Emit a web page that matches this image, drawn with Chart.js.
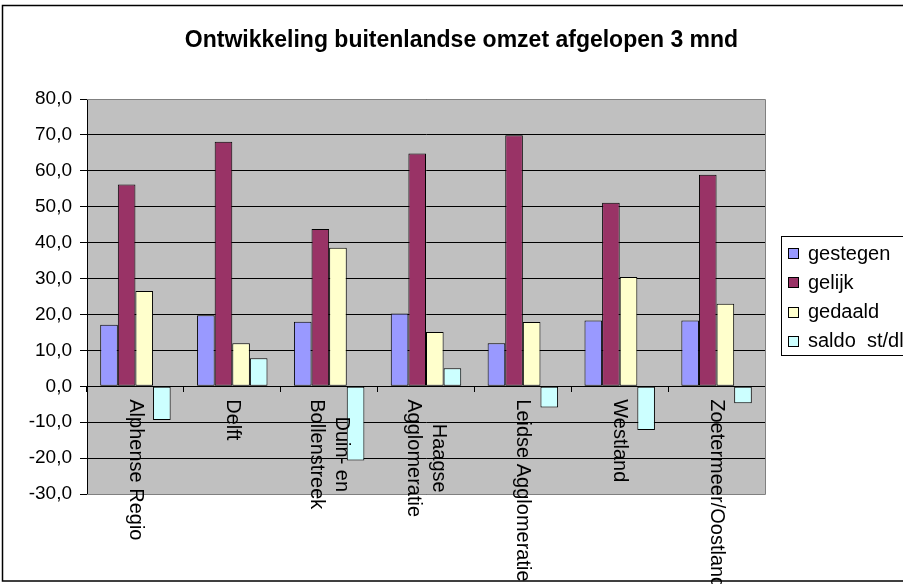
<!DOCTYPE html>
<html>
<head>
<meta charset="utf-8">
<title>Ontwikkeling buitenlandse omzet</title>
<script src="https://cdn.jsdelivr.net/npm/chart.js@4/dist/chart.umd.min.js"></script>
<style>
  html, body { margin: 0; padding: 0; background: #fff; overflow: hidden; }
  #chart { display: block; }
</style>
</head>
<body>
<canvas id="chart" width="903" height="584"></canvas>
<script>
// Data
const categories = [
  "Alphense Regio",
  "Delft",
  ["Duin- en", "Bollenstreek"],
  ["Haagse", "Agglomeratie"],
  "Leidse Agglomeratie",
  "Westland",
  "Zoetermeer/Oostland",
];
const seriesNames = ["gestegen", "gelijk", "gedaald", "saldo  st/dl"];
const gestegen = [17.1, 19.8, 18.0, 20.3, 12.0, 18.3, 18.3];
const gelijk = [56.2, 68.1, 43.8, 64.8, 69.9, 51.1, 58.9];
const gedaald = [26.5, 12.0, 38.6, 15.1, 17.9, 30.4, 23.0];
const saldo = [-9.4, 7.8, -20.7, 5.0, -5.9, -12.2, -4.7];
const yTicks = [-30, -20, -10, 0, 10, 20, 30, 40, 50, 60, 70, 80];
const titleText = "Ontwikkeling buitenlandse omzet afgelopen 3 mnd";

const colors = ["#9999ff", "#993366", "#ffffcc", "#ccffff"];
const FONT = "Arial, 'Liberation Sans', sans-serif";

Chart.defaults.font.family = FONT;
Chart.defaults.color = "#000";

// Excel-style extras: plot background, frame, title, rotated labels, legend box
const excelLook = {
  id: "excelLook",
  beforeDraw(chart) {
    const { ctx, chartArea: a } = chart;
    ctx.save();
    ctx.fillStyle = "#fff";
    ctx.fillRect(0, 0, chart.width, chart.height);
    ctx.fillStyle = "#c0c0c0";
    ctx.fillRect(a.left, a.top, a.right - a.left, a.bottom - a.top);
    ctx.restore();
  },
  beforeDatasetsDraw(chart) {
    const { ctx, chartArea: a } = chart;
    ctx.save();
    ctx.strokeStyle = "#808080";
    ctx.lineWidth = 1;
    ctx.beginPath();
    ctx.moveTo(a.left, Math.round(a.top) + 0.5);
    ctx.lineTo(Math.round(a.right) + 0.5, Math.round(a.top) + 0.5);
    ctx.lineTo(Math.round(a.right) + 0.5, Math.round(a.bottom) + 0.5);
    ctx.lineTo(a.left, Math.round(a.bottom) + 0.5);
    ctx.stroke();
    ctx.restore();
  },
  afterDraw(chart) {
    const { ctx, chartArea: a } = chart;
    const xs = chart.scales.x;
    const ys = chart.scales.y;
    ctx.save();

    // outer frame (right side runs off the picture)
    ctx.strokeStyle = "#000";
    ctx.lineWidth = 1.5;
    ctx.strokeRect(2.5, 5.5, 1000, 575.5);

    // title
    ctx.fillStyle = "#000";
    ctx.font = "bold 23px " + FONT;
    ctx.textAlign = "center";
    ctx.textBaseline = "alphabetic";
    ctx.fillText(titleText, 461.5, 47);

    // category labels, rotated to read downwards
    ctx.font = "20px " + FONT;
    ctx.textBaseline = "middle";
    const zeroY = ys.getPixelForValue(0);
    categories.forEach((cat, i) => {
      const lines = Array.isArray(cat) ? cat : [cat];
      const maxW = Math.max(...lines.map((l) => ctx.measureText(l).width));
      ctx.save();
      ctx.translate(xs.getPixelForValue(i), zeroY + 13);
      ctx.rotate(Math.PI / 2);
      ctx.textAlign = "center";
      lines.forEach((line, j) => {
        ctx.fillText(line, maxW / 2, (j - (lines.length - 1) / 2) * 25);
      });
      ctx.restore();
    });

    // legend box
    const lx = Math.round(a.right) + 16;
    ctx.font = "20px " + FONT;
    ctx.lineWidth = 1;
    ctx.strokeRect(lx + 0.5, 236.5, 200, 119);
    ctx.textAlign = "left";
    chart.data.datasets.forEach((ds, i) => {
      const cy = 253 + i * 29.3;
      ctx.fillStyle = ds.backgroundColor;
      ctx.fillRect(lx + 7, Math.round(cy) - 5, 10, 10);
      ctx.strokeRect(lx + 7.5, Math.round(cy) - 4.5, 10, 10);
      ctx.fillStyle = "#000";
      ctx.fillText(ds.label, lx + 27, cy + 1);
    });
    ctx.restore();
  },
};

function makeDataset(label, values, color) {
  return {
    label: label,
    data: values,
    backgroundColor: color,
    borderColor: "#000",
    borderWidth: 1,
    borderSkipped: false,
    categoryPercentage: 4 / 5.5,
    barPercentage: 1,
  };
}

new Chart(document.getElementById("chart"), {
  type: "bar",
  data: {
    labels: categories,
    datasets: [
      makeDataset(seriesNames[0], gestegen, colors[0]),
      makeDataset(seriesNames[1], gelijk, colors[1]),
      makeDataset(seriesNames[2], gedaald, colors[2]),
      makeDataset(seriesNames[3], saldo, colors[3]),
    ],
  },
  options: {
    responsive: false,
    animation: false,
    devicePixelRatio: 1,
    layout: {
      padding: { top: 99, bottom: 90, left: 0, right: 138 },
    },
    plugins: {
      legend: { display: false },
      title: { display: false },
      tooltip: { enabled: false },
    },
    scales: {
      x: {
        position: { y: 0 },
        grid: {
          offset: true,
          drawOnChartArea: false,
          drawTicks: true,
          tickLength: 5,
          color: "#000",
        },
        border: { color: "#000", width: 1 },
        ticks: { display: false },
      },
      y: {
        min: yTicks[0],
        max: yTicks[yTicks.length - 1],
        afterFit: (scale) => {
          scale.width = 87;
        },
        afterBuildTicks: (scale) => {
          scale.ticks = yTicks.map((v) => ({ value: v }));
        },
        ticks: {
          font: { size: 19 },
          color: "#000",
          padding: 8,
          callback: (v) => v.toFixed(1).replace(".", ","),
        },
        grid: { color: "#000", tickLength: 7 },
        border: { color: "#000", width: 1 },
      },
    },
  },
  plugins: [excelLook],
});
</script>
</body>
</html>
